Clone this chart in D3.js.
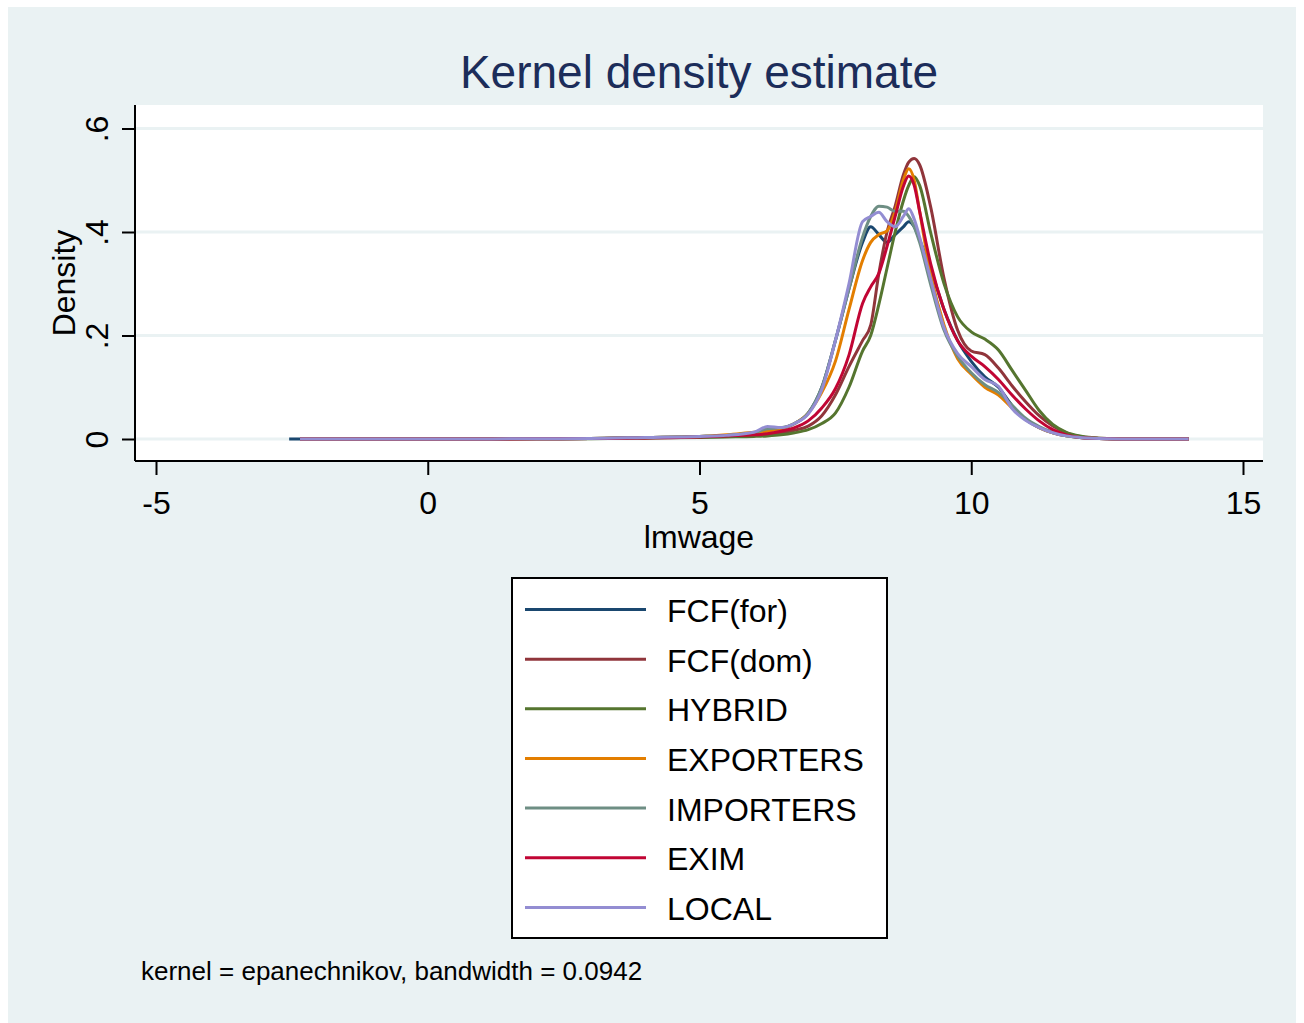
<!DOCTYPE html>
<html>
<head>
<meta charset="utf-8">
<script src="https://cdn.jsdelivr.net/npm/d3@7"></script>
<style>
  html, body { margin: 0; padding: 0; background: #ffffff; }
  svg { display: block; font-family: "Liberation Sans", Arial, Helvetica, sans-serif; }
</style>
</head>
<body>
<svg id="chart" width="1304" height="1023"></svg>
<script>
// Evaluation points of the density estimates (lmwage)
const xGrid = [-2.35, 0, 2, 3, 4, 5, 5.5, 6, 6.25, 6.5, 6.75, 7, 7.25, 7.5, 7.75, 8, 8.15, 8.3, 8.45, 8.6, 8.75, 8.85, 8.95, 9.05, 9.25, 9.5, 9.75, 10, 10.25, 10.5, 10.75, 11, 11.25, 11.5, 11.75, 12, 12.5, 13, 14];

// Estimated densities per group, one value per xGrid point
const fcfFor    = [0, 0, 0.0005, 0.001, 0.003, 0.005, 0.007, 0.012, 0.018, 0.02, 0.03, 0.05, 0.1, 0.19, 0.29, 0.38, 0.41, 0.395, 0.38, 0.395, 0.41, 0.42, 0.41, 0.385, 0.33, 0.25, 0.19, 0.15, 0.12, 0.1, 0.065, 0.038, 0.022, 0.012, 0.006, 0.003, 0.0005, 0, 0];
const fcfDom    = [0, 0, 0.0003, 0.0008, 0.002, 0.004, 0.005, 0.007, 0.009, 0.012, 0.017, 0.025, 0.045, 0.085, 0.14, 0.19, 0.22, 0.32, 0.4, 0.45, 0.51, 0.535, 0.542, 0.53, 0.45, 0.31, 0.21, 0.17, 0.163, 0.137, 0.103, 0.072, 0.045, 0.025, 0.012, 0.005, 0.001, 0, 0];
const hybrid    = [0, 0, 0.0003, 0.0007, 0.002, 0.003, 0.004, 0.005, 0.006, 0.008, 0.012, 0.018, 0.03, 0.05, 0.1, 0.17, 0.2, 0.26, 0.33, 0.4, 0.46, 0.49, 0.507, 0.49, 0.4, 0.3, 0.236, 0.207, 0.193, 0.172, 0.133, 0.094, 0.055, 0.028, 0.013, 0.006, 0.001, 0, 0];
const exporters = [0, 0, 0.0004, 0.001, 0.003, 0.005, 0.008, 0.013, 0.015, 0.02, 0.03, 0.05, 0.09, 0.15, 0.25, 0.345, 0.38, 0.395, 0.402, 0.44, 0.5, 0.522, 0.5, 0.44, 0.32, 0.22, 0.155, 0.125, 0.1, 0.085, 0.06, 0.038, 0.022, 0.012, 0.006, 0.003, 0.0005, 0, 0];
const importers = [0, 0, 0.0005, 0.001, 0.003, 0.005, 0.007, 0.012, 0.02, 0.022, 0.03, 0.05, 0.1, 0.19, 0.29, 0.39, 0.43, 0.45, 0.448, 0.44, 0.44, 0.43, 0.41, 0.38, 0.3, 0.21, 0.16, 0.128, 0.105, 0.09, 0.065, 0.04, 0.024, 0.013, 0.006, 0.003, 0.0005, 0, 0];
const exim      = [0, 0, 0.0003, 0.0008, 0.002, 0.004, 0.006, 0.008, 0.01, 0.015, 0.022, 0.035, 0.06, 0.097, 0.162, 0.262, 0.294, 0.32, 0.372, 0.43, 0.488, 0.508, 0.49, 0.44, 0.34, 0.25, 0.19, 0.16, 0.14, 0.115, 0.085, 0.058, 0.035, 0.018, 0.008, 0.003, 0.0005, 0, 0];
const local     = [0, 0, 0.0005, 0.001, 0.003, 0.005, 0.007, 0.013, 0.024, 0.022, 0.03, 0.048, 0.095, 0.19, 0.3, 0.42, 0.43, 0.438, 0.42, 0.41, 0.43, 0.445, 0.425, 0.39, 0.31, 0.215, 0.165, 0.14, 0.115, 0.102, 0.059, 0.036, 0.022, 0.012, 0.006, 0.003, 0.0005, 0, 0];

// Left end of each estimate's support (FCF(for) reaches a little further)
const firstX = [-2.55, -2.35, -2.35, -2.35, -2.35, -2.35, -2.35];

const seriesNames = ["FCF(for)", "FCF(dom)", "HYBRID", "EXPORTERS", "IMPORTERS", "EXIM", "LOCAL"];
const seriesValues = [fcfFor, fcfDom, hybrid, exporters, importers, exim, local];
const seriesColors = ["#1A476F", "#90353B", "#55752F", "#E37E00", "#6E8E84", "#C10534", "#938DD2"];

const xTicks = [-5, 0, 5, 10, 15];
const xTickLabels = ["-5", "0", "5", "10", "15"];
const yTicks = [0, 0.2, 0.4, 0.6];
const yTickLabels = ["0", ".2", ".4", ".6"];

const titleText = "Kernel density estimate";
const xTitle = "lmwage";
const yTitle = "Density";
const noteText = "kernel = epanechnikov, bandwidth = 0.0942";

// ---- layout ----
const W = 1304, H = 1023;
const bg = "#EAF2F3";
const plot = { left: 135, right: 1263, top: 105, bottom: 461 };

const svg = d3.select("#chart");

// outer graph region
svg.append("rect").attr("x", 8).attr("y", 7).attr("width", 1288).attr("height", H - 7).attr("fill", bg);
// plot region
svg.append("rect").attr("x", plot.left).attr("y", plot.top)
  .attr("width", plot.right - plot.left).attr("height", plot.bottom - plot.top).attr("fill", "#ffffff");

const x = d3.scaleLinear().domain([-5, 15]).range([156, 1243]);
const y = d3.scaleLinear().domain([0, 0.6]).range([439, 128.5]);

// horizontal grid lines
svg.append("g").selectAll("line").data(yTicks).join("line")
  .attr("x1", plot.left).attr("x2", plot.right)
  .attr("y1", d => y(d)).attr("y2", d => y(d))
  .attr("stroke", bg).attr("stroke-width", 3);

// density curves
const line = d3.line().x(d => x(d[0])).y(d => y(d[1])).curve(d3.curveMonotoneX);
const gCurves = svg.append("g").attr("fill", "none").attr("stroke-width", 3).attr("stroke-linejoin", "round");
seriesValues.forEach((vals, i) => {
  const pts = xGrid.map((xv, j) => [xv, vals[j]]);
  pts[0] = [firstX[i], vals[0]];
  gCurves.append("path").datum(pts).attr("d", line).attr("stroke", seriesColors[i]);
});

// axes
const xAxis = d3.axisBottom(x).tickValues(xTicks).tickSize(14).tickFormat((d, i) => xTickLabels[i]);
const gx = svg.append("g").attr("transform", `translate(0,${plot.bottom})`).call(xAxis);
gx.select(".domain").attr("d", `M${plot.left},0H${plot.right}`).attr("stroke", "#000").attr("stroke-width", 2);
gx.selectAll(".tick line").attr("stroke", "#000").attr("stroke-width", 2);
gx.selectAll(".tick text").attr("font-size", 32).attr("fill", "#000")
  .attr("font-family", "Liberation Sans, Arial, sans-serif").attr("dy", null).attr("y", 53);

const yAxis = d3.axisLeft(y).tickValues(yTicks).tickSize(13).tickFormat((d, i) => yTickLabels[i]);
const gy = svg.append("g").attr("transform", `translate(${plot.left},0)`).call(yAxis);
gy.select(".domain").attr("d", `M0,${plot.top}V${plot.bottom}`).attr("stroke", "#000").attr("stroke-width", 2);
gy.selectAll(".tick line").attr("stroke", "#000").attr("stroke-width", 2);
gy.selectAll(".tick text").attr("font-size", 32).attr("fill", "#000")
  .attr("font-family", "Liberation Sans, Arial, sans-serif")
  .attr("x", null).attr("dy", null).attr("text-anchor", "middle")
  .attr("transform", "translate(-27,0) rotate(-90)");

// titles
svg.append("text").attr("x", 699).attr("y", 88).attr("text-anchor", "middle")
  .attr("font-size", 46).attr("fill", "#1C2D5A").text(titleText);
svg.append("text").attr("x", 699).attr("y", 548).attr("text-anchor", "middle")
  .attr("font-size", 32).attr("fill", "#000").text(xTitle);
svg.append("text").attr("transform", `translate(75,${(plot.top + plot.bottom) / 2}) rotate(-90)`)
  .attr("text-anchor", "middle").attr("font-size", 32).attr("fill", "#000").text(yTitle);

// legend
const legend = svg.append("g");
legend.append("rect").attr("x", 512).attr("y", 578).attr("width", 375).attr("height", 360)
  .attr("fill", "#ffffff").attr("stroke", "#000").attr("stroke-width", 2);
seriesNames.forEach((name, i) => {
  const ly = 609.5 + i * 49.65;
  legend.append("line").attr("x1", 525).attr("x2", 646).attr("y1", ly).attr("y2", ly)
    .attr("stroke", seriesColors[i]).attr("stroke-width", 3);
  legend.append("text").attr("x", 667).attr("y", ly + 12.5).attr("font-size", 32).attr("fill", "#000").text(name);
});

// note
svg.append("text").attr("x", 141).attr("y", 980).attr("font-size", 26).attr("fill", "#000").text(noteText);
</script>
</body>
</html>
